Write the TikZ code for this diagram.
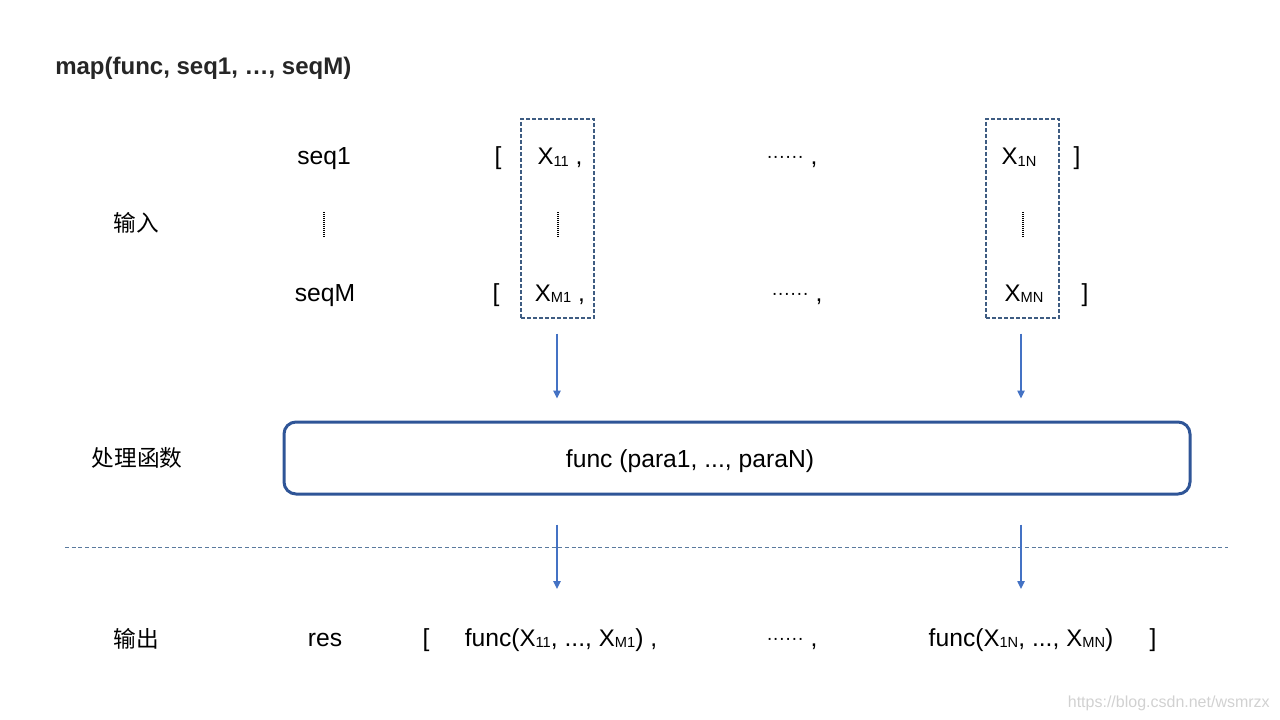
\documentclass[tikz,border=0pt]{standalone}
\usepackage{fontspec}
\setmainfont{Liberation Sans}
\newfontfamily\cjk{Noto Sans CJK SC}
\usetikzlibrary{arrows.meta}
\definecolor{arrowblue}{HTML}{4472C4}
\definecolor{boxblue}{HTML}{2F5597}
\definecolor{colblue}{HTML}{3E5C82}
\definecolor{lineblue}{HTML}{5A7A9E}
\newcommand\xsub[1]{{\fontsize{18}{20}\selectfont X}\raisebox{-1.2pt}{\fontsize{11}{12}\selectfont #1}}
\newcommand\hdots{{\fontsize{14}{14}\selectfont\raisebox{1.5pt}{······}}}
\begin{document}
\begin{tikzpicture}[x=0.75pt,y=-0.75pt,
    txt/.style={font=\fontsize{18.5}{21}\selectfont,inner sep=0pt,anchor=base},
    zh/.style={font=\cjk\fontsize{17}{20}\selectfont,inner sep=0pt},
    colbox/.style={draw=colblue,line width=0.8pt,dash pattern=on 3pt off 1.5pt,
        minimum width=54.75pt,minimum height=149.25pt,inner sep=0pt},
    funcbox/.style={draw=boxblue,line width=2.25pt,rounded corners=9pt,
        minimum width=679.5pt,minimum height=54pt,inner sep=0pt},
    flow/.style={draw=arrowblue,line width=1.1pt,-{Triangle[length=6pt,width=5.5pt]}},
    vdots/.style={line width=1pt,dash pattern=on 0.75pt off 0.75pt}]
    \useasboundingbox (0,0) rectangle (1280,720);

    \node[anchor=base west,inner sep=0pt,text=black!85,font=\bfseries\fontsize{18}{21}\selectfont] (title) at (55,75) {map(func, seq1, …, seqM)};

    \node[zh] (in) at (136,223) {输入};
    \node[zh] (proc) at (137,458) {处理函数};
    \node[zh] (out) at (136,639) {输出};

    \node[colbox] (col1) at (557.5,218.5) {};
    \node[colbox] (colN) at (1022.5,218.5) {};

    \node[txt] (seq1) at (324,165) {seq1};
    \node[txt] (lb1) at (498,165) {[};
    \node[txt] (x11) at (560,165) {\xsub{11} ,};
    \node[txt] (dots1) at (792,165) {\hdots\ ,};
    \node[txt] (x1n) at (1019,165) {\xsub{1N}};
    \node[txt] (rb1) at (1077,165) {]};

    \node[txt] (seqM) at (325,301) {seqM};
    \node[txt] (lbM) at (496,301) {[};
    \node[txt] (xm1) at (560,301) {\xsub{M1} ,};
    \node[txt] (dotsM) at (797,301) {\hdots\ ,};
    \node[txt] (xmn) at (1024,301) {\xsub{MN}};
    \node[txt] (rbM) at (1085,301) {]};

    \draw[vdots] (324,212) -- (324,238);
    \draw[vdots] (558,212) -- (558,238);
    \draw[vdots] (1023,212) -- (1023,238);

    \node[funcbox] (func) at (737,458) {};
    \node[txt] (functxt) at (690,467) {func (para1, ..., paraN)};

    \coordinate (r1) at (557,589);
    \coordinate (rN) at (1021,589);
    \draw[flow,shorten <=11.25pt,shorten >=16.5pt] (col1.south -| r1) -- (r1 |- func.north);
    \draw[flow,shorten <=11.25pt,shorten >=16.5pt] (colN.south -| rN) -- (rN |- func.north);

    \coordinate (sepL) at (65,547);
    \coordinate (sepR) at (1228,547);
    \draw[lineblue,line width=0.7pt,dash pattern=on 3pt off 2pt] (sepL) -- (sepR);

    \draw[flow,shorten <=21.75pt] (r1 |- func.south) -- (r1);
    \draw[flow,shorten <=21.75pt] (rN |- func.south) -- (rN);

    \node[txt] (res) at (325,646) {res};
    \node[txt] (lbR) at (426,646) {[};
    \node[txt] (res1) at (561,646) {func(\xsub{11}, ..., \xsub{M1}) ,};
    \node[txt] (dotsR) at (792,646) {\hdots\ ,};
    \node[txt] (resN) at (1021,646) {func(\xsub{1N}, ..., \xsub{MN})};
    \node[txt] (rbR) at (1153,646) {]};

    \node[anchor=east,inner sep=0pt,text=black!18,font=\fontsize{12}{14}\selectfont] (mark) at (1270,703) {https://blog.csdn.net/wsmrzx};
\end{tikzpicture}
\end{document}
